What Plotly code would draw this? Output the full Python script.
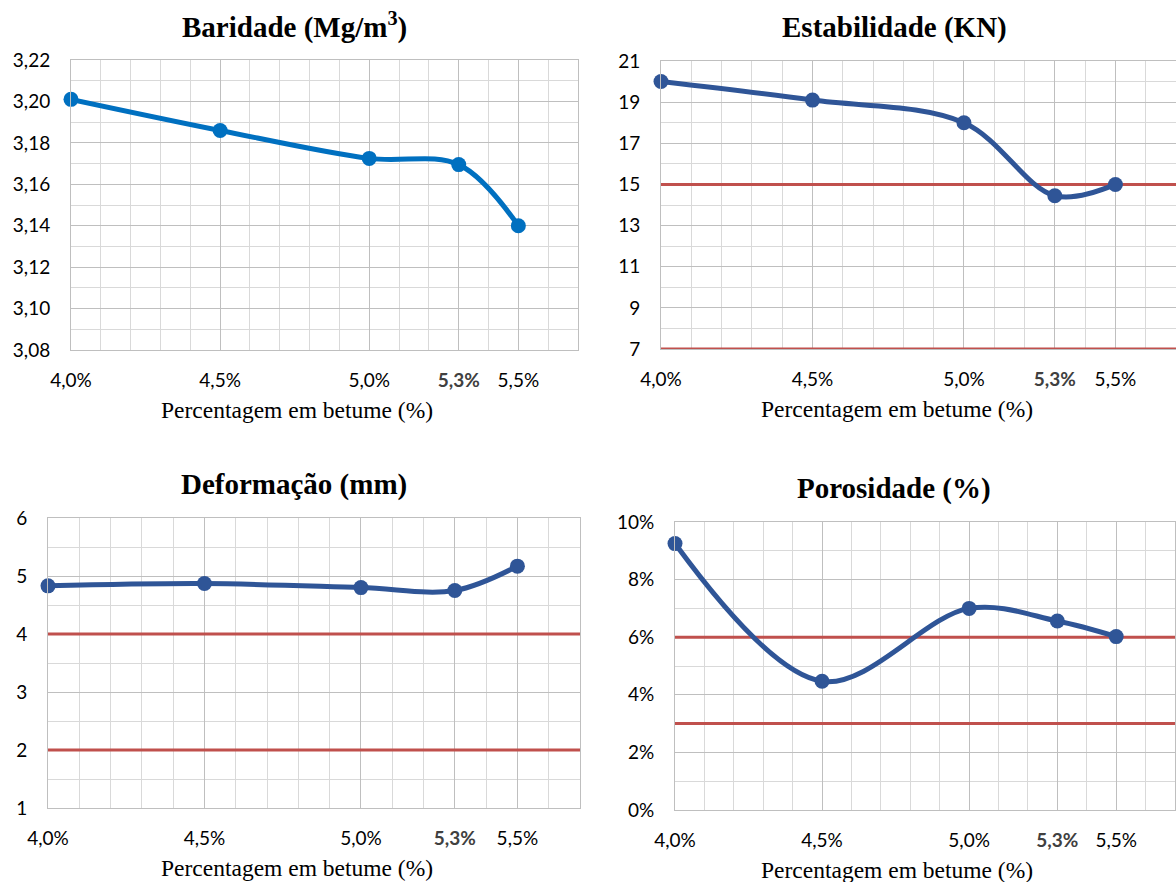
import plotly.graph_objects as go

# ---------------- data ----------------
betume = [4.0, 4.5, 5.0, 5.3, 5.5]
x_ticktext = ["4,0%", "4,5%", "5,0%",
              '<span style="color:#404040"><b>5,3%</b></span>', "5,5%"]
x_title = "Percentagem em betume (%)"
x_range = [4.0, 5.7]

baridade = [3.201, 3.186, 3.1725, 3.1695, 3.140]
estabilidade = [20.0, 19.1, 18.0, 14.45, 15.0]
deformacao = [4.83, 4.87, 4.80, 4.75, 5.17]
porosidade = [0.0925, 0.0447, 0.070, 0.0656, 0.0602]

estab_limits = [15, 7]
deform_limits = [4, 2]
poros_limits = [0.06, 0.03]

titles = ["Baridade (Mg/m<sup>3</sup>)", "Estabilidade (KN)",
          "Deformação (mm)", "Porosidade (%)"]

# ---------------- layout config ----------------
W, H = 1176, 882
panels = [
    dict(y=baridade, color="#0070C0", limits=[], yr=[3.08, 3.22], dt=0.02, mdt=0.01,
         fmt=".2f", box=(71, 578, 60, 350), tc=294, ac=297),
    dict(y=estabilidade, color="#2F5597", limits=estab_limits, yr=[7, 21], dt=2, mdt=1,
         fmt="d", box=(661, 1176, 61, 349), tc=894, ac=897),
    dict(y=deformacao, color="#2F5597", limits=deform_limits, yr=[1, 6], dt=1, mdt=0.5,
         fmt="d", box=(48, 580, 518, 808), tc=294, ac=297),
    dict(y=porosidade, color="#2F5597", limits=poros_limits, yr=[0, 0.10], dt=0.02, mdt=0.01,
         fmt=".0%", box=(675, 1175, 522, 810), tc=894, ac=897),
]

TICK_FONT = dict(family="Lato, Carlito, 'Open Sans', sans-serif", size=19, color="#000000")
SERIF = "'Liberation Serif', 'Times New Roman', serif"
MAJOR_GRID = "#BFBFBF"
MINOR_GRID = "#D9D9D9"

fig = go.Figure()
layout = dict(
    width=W, height=H, margin=dict(l=0, r=0, t=0, b=0, autoexpand=False),
    paper_bgcolor="white", plot_bgcolor="white",
    showlegend=False, separators=",.",
)
annotations = []

for i, p in enumerate(panels, start=1):
    x0, x1, y0, y1 = p["box"]
    xa = "xaxis" if i == 1 else f"xaxis{i}"
    ya = "yaxis" if i == 1 else f"yaxis{i}"
    xr = "x" if i == 1 else f"x{i}"
    yr = "y" if i == 1 else f"y{i}"

    layout[xa] = dict(
        domain=[x0 / W, x1 / W], anchor=yr, range=x_range, automargin=False,
        tickmode="array", tickvals=betume, ticktext=x_ticktext,
        tickfont=TICK_FONT, ticks="", ticklabelstandoff=13,
        showgrid=True, gridcolor=MAJOR_GRID, gridwidth=1,
        minor=dict(tick0=4.0, dtick=0.1, showgrid=True, gridcolor=MINOR_GRID, gridwidth=1),
        showline=True, linecolor=MAJOR_GRID, linewidth=1, mirror=True,
        zeroline=False, fixedrange=True,
    )
    layout[ya] = dict(
        domain=[1 - y1 / H, 1 - y0 / H], anchor=xr, range=p["yr"], automargin=False,
        tick0=p["yr"][0], dtick=p["dt"], tickformat=p["fmt"],
        tickfont=TICK_FONT, ticks="", ticklabelstandoff=16,
        showgrid=True, gridcolor=MAJOR_GRID, gridwidth=1,
        minor=dict(tick0=p["yr"][0], dtick=p["mdt"], showgrid=True,
                   gridcolor=MINOR_GRID, gridwidth=1),
        showline=True, linecolor=MAJOR_GRID, linewidth=1, mirror=True,
        zeroline=False, fixedrange=True,
    )

    for v in p["limits"]:
        fig.add_trace(go.Scatter(
            x=x_range, y=[v, v], xaxis=xr, yaxis=yr, mode="lines",
            line=dict(color="#C0504D", width=3), hoverinfo="skip",
        ))

    fig.add_trace(go.Scatter(
        x=betume, y=p["y"], xaxis=xr, yaxis=yr, mode="lines+markers",
        line=dict(color=p["color"], width=5, shape="spline", smoothing=1.0),
        marker=dict(color=p["color"], size=15),
        cliponaxis=False, hoverinfo="skip",
    ))

    annotations.append(dict(
        text=f"<b>{titles[i-1]}</b>", xref="paper", yref="paper",
        x=p["tc"] / W, y=1 - (y0 - 34) / H, xanchor="center", yanchor="middle",
        showarrow=False, font=dict(family=SERIF, size=29, color="#000000"),
    ))
    annotations.append(dict(
        text=x_title, xref="paper", yref="paper",
        x=p["ac"] / W, y=1 - (y1 + 60) / H, xanchor="center", yanchor="middle",
        showarrow=False, font=dict(family=SERIF, size=23.5, color="#000000"),
    ))

layout["annotations"] = annotations
fig.update_layout(**layout)

fig.write_html("out.html")
